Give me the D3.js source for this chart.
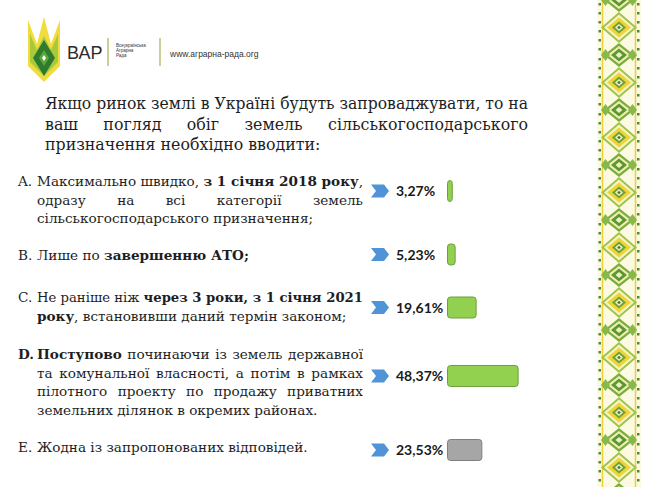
<!DOCTYPE html>
<html>
<head>
<meta charset="utf-8">
<script src="https://cdn.jsdelivr.net/npm/d3@7"></script>
<style>
  body { margin: 0; background: #fff; }
  svg { display: block; }
  text { white-space: pre; }
</style>
</head>
<body>
<svg id="chart" width="650" height="487"></svg>
<script>
// Data
const questionLines = [
  "Якщо ринок землі в Україні будуть запроваджувати, то на",
  "ваш погляд обіг земель сільськогосподарського",
  "призначення необхідно вводити:"
];

const optionLetters = ["A.", "B.", "C.", "D.", "E."];
const shares = [3.27, 5.23, 19.61, 48.37, 23.53];

// each option: lines, each line: [text, bold]
const optionText = [
  [[["Максимально швидко, ", 0], ["з 1 січня 2018 року", 1], [",", 0]],
   [["одразу на всі категорії земель", 0]],
   [["сільськогосподарського призначення;", 0]]],
  [[["Лише по ", 0], ["завершенню АТО;", 1]]],
  [[["Не раніше ніж ", 0], ["через 3 роки, з 1 січня 2021", 1]],
   [["року", 1], [", встановивши даний термін законом;", 0]]],
  [[["Поступово", 1], [" починаючи із земель державної", 0]],
   [["та комунальної власності, а потім в рамках", 0]],
   [["пілотного проекту по продажу приватних", 0]],
   [["земельних ділянок в окремих районах.", 0]]],
  [[["Жодна із запропонованих відповідей.", 0]]]
];

// Layout
const serif = "'DejaVu Serif', 'Liberation Serif', serif";
const optFirstBaseline = [186, 260, 302, 359, 452];
const optJustify = [[1, 1, 0], [0], [1, 0], [1, 1, 1, 0], [0]];
const rowCenter = [191, 254.5, 307.5, 376, 450];
const lineStep = 18.5;
const barX = 447.5, barH = 21;

const svg = d3.select("#chart");

function drawLine(g, x, y, segs, endX, justify, size) {
  const t = g.append("text")
    .attr("x", x).attr("y", y)
    .style("font-family", serif)
    .style("font-size", size + "px")
    .attr("fill", "#1e1e1e");
  segs.forEach(s => t.append("tspan").text(s[0]).style("font-weight", s[1] ? "bold" : "normal"));
  const len = t.node().getComputedTextLength();
  const target = endX - x;
  const spaces = segs.map(s => s[0]).join("").split(" ").length - 1;
  if (len > target) {
    t.attr("textLength", target).attr("lengthAdjust", "spacingAndGlyphs");
  } else if (justify && spaces > 0) {
    t.style("word-spacing", ((target - len) / spaces) + "px");
  }
}

// Ornament band on the right
const defs = svg.append("defs");
const pat = defs.append("pattern")
  .attr("id", "ornament")
  .attr("patternUnits", "userSpaceOnUse")
  .attr("x", 597).attr("y", 0)
  .attr("width", 44).attr("height", 55);

pat.append("rect").attr("width", 44).attr("height", 55).attr("fill", "#fcfae2");
pat.selectAll("line.edge").data([5.5, 38.5]).enter().append("line")
  .attr("x1", d => d).attr("x2", d => d).attr("y1", 0).attr("y2", 55)
  .attr("stroke", "#eccf3a").attr("stroke-width", 1.5);

function diamond(g, cx, cy, rx, ry, fill) {
  g.append("polygon")
    .attr("points", [[cx, cy - ry], [cx + rx, cy], [cx, cy + ry], [cx - rx, cy]].join(" "))
    .attr("fill", fill);
}
// green diamonds at tile edges
[0, 55].forEach(cy => {
  diamond(pat, 22, cy, 15, 12, "#7aae3c");
  diamond(pat, 22, cy, 11.5, 9, "#f3eeb4");
  diamond(pat, 22, cy, 8, 6.5, "#5c9832");
  diamond(pat, 22, cy, 3.5, 3, "#eef0c0");
  diamond(pat, 8.5, cy, 4.5, 6, "#86b84a");
  diamond(pat, 35.5, cy, 4.5, 6, "#86b84a");
});
// yellow diamond in the middle
diamond(pat, 22, 27.5, 18, 15.5, "#9cc448");
diamond(pat, 22, 27.5, 15, 13, "#f8f3c4");
diamond(pat, 22, 27.5, 12, 10, "#efd438");
diamond(pat, 22, 27.5, 7, 6, "#6aa23a");
diamond(pat, 22, 27.5, 4, 3.5, "#f6f0c0");
diamond(pat, 22, 27.5, 1.8, 1.8, "#3d7b2a");
// small dots along the edges
pat.selectAll("rect.dot").data(d3.range(0, 55, 9)).enter().append("rect")
  .attr("x", 1.5).attr("y", d => d + 3).attr("width", 2.5).attr("height", 2.5)
  .attr("fill", "#4c8a34");
pat.selectAll("rect.dot2").data(d3.range(0, 55, 9)).enter().append("rect")
  .attr("x", 40).attr("y", d => d + 3).attr("width", 2.5).attr("height", 2.5)
  .attr("fill", "#4c8a34");

svg.append("rect")
  .attr("x", 597).attr("y", 0).attr("width", 44).attr("height", 487)
  .attr("fill", "url(#ornament)");

// Logo
const logo = svg.append("g");
logo.append("polygon")
  .attr("points", "28,20 37,44 44,17 51,44 60,20 60,66 44,82 28,66")
  .attr("fill", "#f0dc3c");
logo.append("polygon")
  .attr("points", "30,34 37,50 44,36 51,50 58,34 58,62 44,76 30,62")
  .attr("fill", "#a8c93a");
logo.append("polygon")
  .attr("points", "44,40 55,58 44,76 33,58")
  .attr("fill", "#2f7a2e");
logo.append("polygon")
  .attr("points", "44,50 49,58 44,66 39,58")
  .attr("fill", "#5aa83a");
logo.append("polygon")
  .attr("points", "44,55 46,58 44,61 42,58")
  .attr("fill", "#ffffff");

logo.append("text")
  .attr("x", 67).attr("y", 59)
  .style("font-family", "'Liberation Sans', Arial, sans-serif")
  .style("font-size", "18px")
  .attr("fill", "#2b2b2b")
  .text("ВАР");
[108, 160].forEach(lx => logo.append("line")
  .attr("x1", lx).attr("x2", lx).attr("y1", 38).attr("y2", 66)
  .attr("stroke", "#8f9f3c").attr("stroke-width", 1));
["Всеукраїнська", "Аграрна", "Рада"].forEach((s, i) => logo.append("text")
  .attr("x", 116).attr("y", 47 + i * 5)
  .style("font-family", "'Liberation Sans', Arial, sans-serif")
  .style("font-size", "4.5px")
  .attr("fill", "#333")
  .text(s));
logo.append("text")
  .attr("x", 170).attr("y", 57)
  .style("font-family", "'Liberation Sans', Arial, sans-serif")
  .style("font-size", "8.5px")
  .attr("fill", "#333")
  .text("www.аграрна-рада.org");

// Question
const q = svg.append("g");
questionLines.forEach((s, i) => {
  drawLine(q, 45, 109 + i * 20.5, [[s, 0]], i < 2 ? 528 : 600, i < 2, 15.8);
});

// Options
const opts = svg.append("g");
optionText.forEach((lines, i) => {
  const y0 = optFirstBaseline[i];
  opts.append("text")
    .attr("x", 18).attr("y", y0)
    .style("font-family", serif)
    .style("font-size", "13.6px")
    .style("font-weight", i === 3 ? "bold" : "normal")
    .attr("fill", "#1e1e1e")
    .text(optionLetters[i]);
  lines.forEach((segs, j) => {
    drawLine(opts, 37, y0 + j * lineStep, segs, optJustify[i][j] ? 363 : 370, optJustify[i][j], 13.6);
  });
});

// Arrows, labels and bars
const x = d3.scaleLinear().domain([0, 50]).range([0, 73]);
const fmt = d3.formatLocale({ decimal: ",", thousands: " ", grouping: [3], currency: ["", ""] }).format(".2f");

const rows = svg.append("g").selectAll("g.row")
  .data(shares)
  .enter().append("g")
  .attr("class", "row")
  .attr("transform", (d, i) => "translate(0," + rowCenter[i] + ")");

rows.append("polygon")
  .attr("points", "371,-6.5 384,-6.5 389,0 384,6.5 371,6.5 376,0")
  .attr("fill", "#4f94d6");

rows.append("text")
  .attr("x", 396).attr("y", 5)
  .style("font-family", "Lato, 'Open Sans', sans-serif")
  .style("font-size", "14px")
  .style("font-weight", "bold")
  .attr("fill", "#1a1a1a")
  .text(d => fmt(d) + "%");

rows.append("rect")
  .attr("x", barX).attr("y", -barH / 2)
  .attr("width", d => x(d))
  .attr("height", barH)
  .attr("rx", 3)
  .attr("fill", (d, i) => i === 4 ? "#a6a6a6" : "#92d050")
  .attr("stroke", (d, i) => i === 4 ? "#7f7f7f" : "#6f9e3d")
  .attr("stroke-width", 1);
</script>
</body>
</html>
